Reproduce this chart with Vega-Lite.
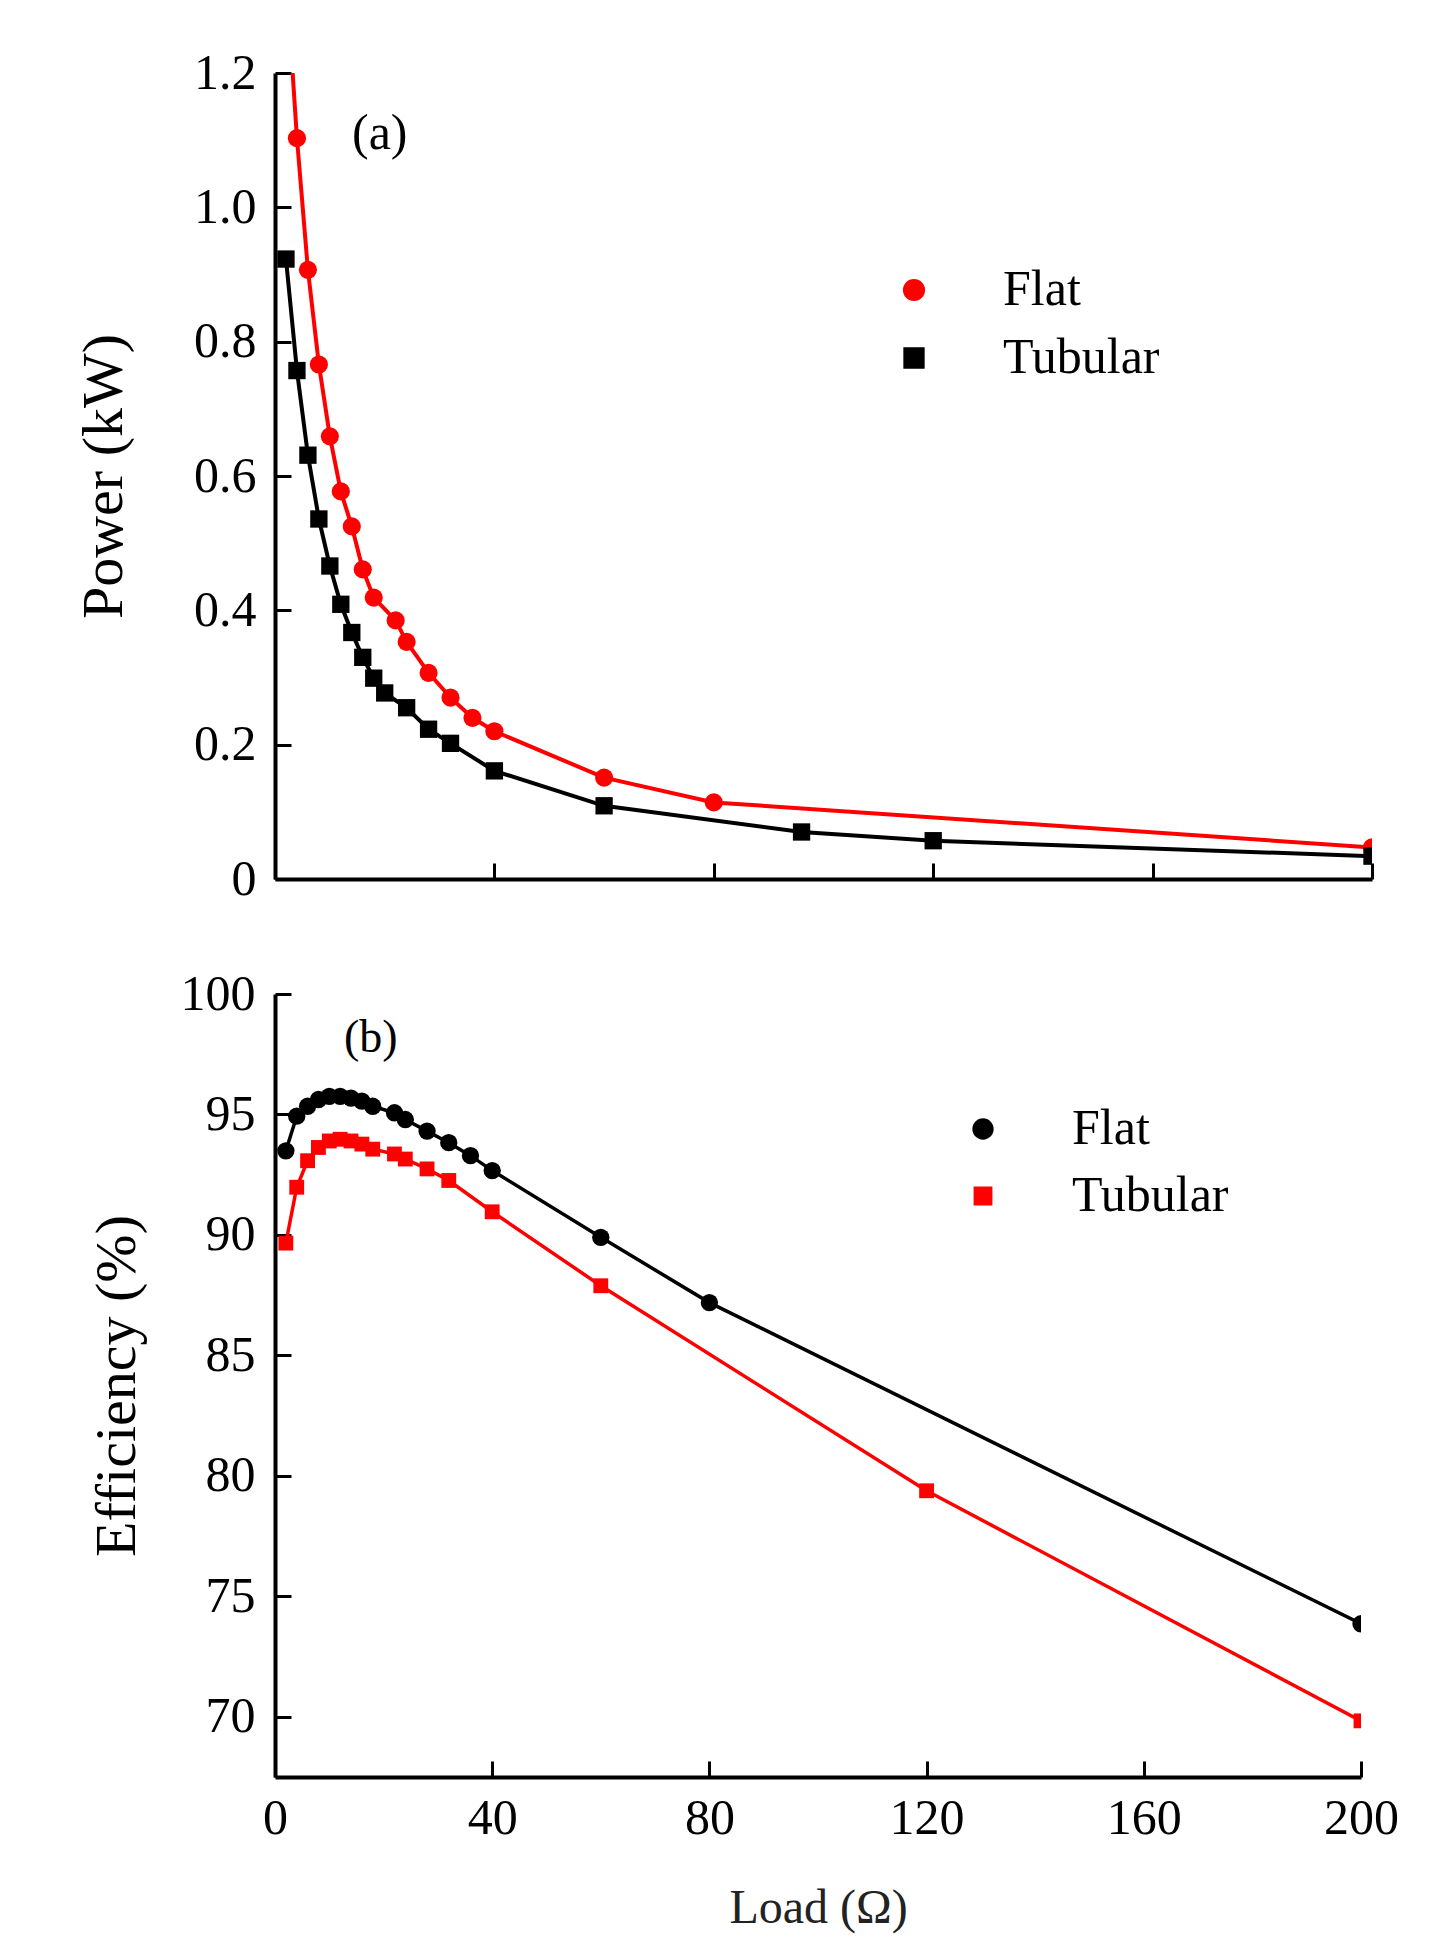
{
  "$schema": "https://vega.github.io/schema/vega-lite/v6.json",
  "padding": {"left": 75, "top": 48, "right": 10, "bottom": 10},
  "spacing": 65,
  "datasets": {
    "power": [
      {"load": 2, "power": 1.35, "series": "Flat"},
      {"load": 4, "power": 1.103, "series": "Flat"},
      {"load": 6, "power": 0.907, "series": "Flat"},
      {"load": 8, "power": 0.766, "series": "Flat"},
      {"load": 10, "power": 0.659, "series": "Flat"},
      {"load": 12, "power": 0.577, "series": "Flat"},
      {"load": 14, "power": 0.525, "series": "Flat"},
      {"load": 16, "power": 0.461, "series": "Flat"},
      {"load": 18, "power": 0.419, "series": "Flat"},
      {"load": 22, "power": 0.385, "series": "Flat"},
      {"load": 24, "power": 0.353, "series": "Flat"},
      {"load": 28, "power": 0.307, "series": "Flat"},
      {"load": 32, "power": 0.27, "series": "Flat"},
      {"load": 36, "power": 0.24, "series": "Flat"},
      {"load": 40, "power": 0.22, "series": "Flat"},
      {"load": 60, "power": 0.151, "series": "Flat"},
      {"load": 80, "power": 0.114, "series": "Flat"},
      {"load": 200, "power": 0.047, "series": "Flat"},
      {"load": 2, "power": 0.923, "series": "Tubular"},
      {"load": 4, "power": 0.757, "series": "Tubular"},
      {"load": 6, "power": 0.631, "series": "Tubular"},
      {"load": 8, "power": 0.536, "series": "Tubular"},
      {"load": 10, "power": 0.466, "series": "Tubular"},
      {"load": 12, "power": 0.409, "series": "Tubular"},
      {"load": 14, "power": 0.367, "series": "Tubular"},
      {"load": 16, "power": 0.33, "series": "Tubular"},
      {"load": 18, "power": 0.299, "series": "Tubular"},
      {"load": 20, "power": 0.277, "series": "Tubular"},
      {"load": 24, "power": 0.255, "series": "Tubular"},
      {"load": 28, "power": 0.223, "series": "Tubular"},
      {"load": 32, "power": 0.202, "series": "Tubular"},
      {"load": 40, "power": 0.161, "series": "Tubular"},
      {"load": 60, "power": 0.109, "series": "Tubular"},
      {"load": 96, "power": 0.07, "series": "Tubular"},
      {"load": 120, "power": 0.057, "series": "Tubular"},
      {"load": 200, "power": 0.034, "series": "Tubular"}
    ],
    "eff": [
      {"load": 2, "efficiency": 93.49, "series": "Flat"},
      {"load": 4, "efficiency": 94.93, "series": "Flat"},
      {"load": 6, "efficiency": 95.34, "series": "Flat"},
      {"load": 8, "efficiency": 95.62, "series": "Flat"},
      {"load": 10, "efficiency": 95.75, "series": "Flat"},
      {"load": 12, "efficiency": 95.75, "series": "Flat"},
      {"load": 14, "efficiency": 95.68, "series": "Flat"},
      {"load": 16, "efficiency": 95.55, "series": "Flat"},
      {"load": 18, "efficiency": 95.34, "series": "Flat"},
      {"load": 22, "efficiency": 95.07, "series": "Flat"},
      {"load": 24, "efficiency": 94.79, "series": "Flat"},
      {"load": 28, "efficiency": 94.31, "series": "Flat"},
      {"load": 32, "efficiency": 93.83, "series": "Flat"},
      {"load": 36, "efficiency": 93.29, "series": "Flat"},
      {"load": 40, "efficiency": 92.67, "series": "Flat"},
      {"load": 60, "efficiency": 89.9, "series": "Flat"},
      {"load": 80, "efficiency": 87.19, "series": "Flat"},
      {"load": 200, "efficiency": 73.86, "series": "Flat"},
      {"load": 2, "efficiency": 89.66, "series": "Tubular"},
      {"load": 4, "efficiency": 91.98, "series": "Tubular"},
      {"load": 6, "efficiency": 93.08, "series": "Tubular"},
      {"load": 8, "efficiency": 93.63, "series": "Tubular"},
      {"load": 10, "efficiency": 93.9, "series": "Tubular"},
      {"load": 12, "efficiency": 93.97, "series": "Tubular"},
      {"load": 14, "efficiency": 93.9, "series": "Tubular"},
      {"load": 16, "efficiency": 93.77, "series": "Tubular"},
      {"load": 18, "efficiency": 93.56, "series": "Tubular"},
      {"load": 22, "efficiency": 93.36, "series": "Tubular"},
      {"load": 24, "efficiency": 93.15, "series": "Tubular"},
      {"load": 28, "efficiency": 92.74, "series": "Tubular"},
      {"load": 32, "efficiency": 92.26, "series": "Tubular"},
      {"load": 40, "efficiency": 90.96, "series": "Tubular"},
      {"load": 60, "efficiency": 87.89, "series": "Tubular"},
      {"load": 120, "efficiency": 79.38, "series": "Tubular"},
      {"load": 200, "efficiency": 69.83, "series": "Tubular"}
    ]
  },
  "vconcat": [
    {
      "width": 1097,
      "height": 806,
      "data": {"name": "power"},
      "title": {"text": "(a)", "anchor": "start", "frame": "group", "font": "Liberation Serif", "fontSize": 50, "fontWeight": "normal", "baseline": "middle", "dx": 77, "offset": -136},
      "encoding": {
        "x": {"field": "load", "type": "quantitative", "scale": {"domain": [0, 200], "nice": false},
              "axis": {"values": [0, 40, 80, 120, 160, 200], "labels": false, "title": null}},
        "y": {"field": "power", "type": "quantitative", "scale": {"domain": [0, 1.2], "nice": false},
              "axis": {"values": [0, 0.2, 0.4, 0.6, 0.8, 1.0, 1.2], "labelExpr": "datum.value == 0 ? '0' : format(datum.value, '.1f')",
                       "title": "Power (kW)", "titlePadding": 60, "labelPadding": 35}}
      },
      "layer": [
        {
          "mark": {"type": "line", "clip": true, "strokeWidth": 4},
          "encoding": {
            "color": {"field": "series", "type": "nominal",
                      "scale": {"domain": ["Flat", "Tubular"], "range": ["#ff0000", "#000000"]}}
          }
        },
        {
          "mark": {"type": "point", "filled": true, "clip": true, "opacity": 1},
          "encoding": {
            "size": {"field": "series", "type": "nominal", "legend": null,
                     "scale": {"domain": ["Flat", "Tubular"], "range": [330, 300]}},
            "shape": {"field": "series", "type": "nominal", "legend": null,
                      "scale": {"domain": ["Flat", "Tubular"], "range": ["circle", "square"]}},
            "color": {"field": "series", "type": "nominal",
                      "scale": {"domain": ["Flat", "Tubular"], "range": ["#ff0000", "#000000"]},
                      "legend": {
                        "title": null, "orient": "none", "legendX": 614, "legendY": 192, "rowPadding": 18,
                        "symbolSize": 2788, "symbolStrokeWidth": 4, "labelOffset": 64
                      }}
          }
        }
      ]
    },
    {
      "width": 1086,
      "height": 783,
      "data": {"name": "eff"},
      "title": {"text": "(b)", "anchor": "start", "frame": "group", "font": "Liberation Serif", "fontSize": 46, "fontWeight": "normal", "baseline": "middle", "dx": 69, "offset": -115},
      "encoding": {
        "x": {"field": "load", "type": "quantitative", "scale": {"domain": [0, 200], "nice": false},
              "axis": {"values": [0, 40, 80, 120, 160, 200], "title": "Load (Ω)", "titleFontSize": 48, "titleColor": "#222222",
                       "labelPadding": 32, "titlePadding": 41}},
        "y": {"field": "efficiency", "type": "quantitative", "scale": {"domain": [67.5, 100], "nice": false, "zero": false},
              "axis": {"values": [70, 75, 80, 85, 90, 95, 100], "title": "Efficiency (%)", "titlePadding": 34, "labelPadding": 36}}
      },
      "layer": [
        {
          "mark": {"type": "line", "clip": true, "strokeWidth": 3.5},
          "encoding": {
            "color": {"field": "series", "type": "nominal",
                      "scale": {"domain": ["Flat", "Tubular"], "range": ["#000000", "#ff0000"]}}
          }
        },
        {
          "mark": {"type": "point", "filled": true, "clip": true, "opacity": 1},
          "encoding": {
            "size": {"field": "series", "type": "nominal", "legend": null,
                     "scale": {"domain": ["Flat", "Tubular"], "range": [300, 220]}},
            "shape": {"field": "series", "type": "nominal", "legend": null,
                      "scale": {"domain": ["Flat", "Tubular"], "range": ["circle", "square"]}},
            "color": {"field": "series", "type": "nominal",
                      "scale": {"domain": ["Flat", "Tubular"], "range": ["#000000", "#ff0000"]},
                      "legend": {
                        "title": null, "orient": "none", "legendX": 683, "legendY": 110, "rowPadding": 17,
                        "symbolSize": 2788, "symbolStrokeWidth": 4, "labelOffset": 64
                      }}
          }
        }
      ]
    }
  ],
  "resolve": {"scale": {"color": "independent", "shape": "independent", "size": "independent", "x": "independent", "y": "independent"}, "legend": {"color": "independent", "shape": "independent"}},
  "config": {
    "view": {"stroke": null},
    "font": "Liberation Serif",
    "axis": {
      "grid": false,
      "domainColor": "#000000",
      "domainWidth": 4,
      "tickColor": "#000000",
      "tickWidth": 3,
      "tickSize": -16,
      "labelFont": "Liberation Serif",
      "labelFontSize": 50,
      "labelColor": "#000000",
      "labelFlush": false,
      "labelOverlap": false,
      "titleFont": "Liberation Serif",
      "titleFontSize": 58,
      "titleFontWeight": "normal",
      "titleColor": "#000000"
    },
    "legend": {
      "labelFont": "Liberation Serif",
      "labelFontSize": 50,
      "labelColor": "#000000",
      "padding": 0
    }
  }
}
